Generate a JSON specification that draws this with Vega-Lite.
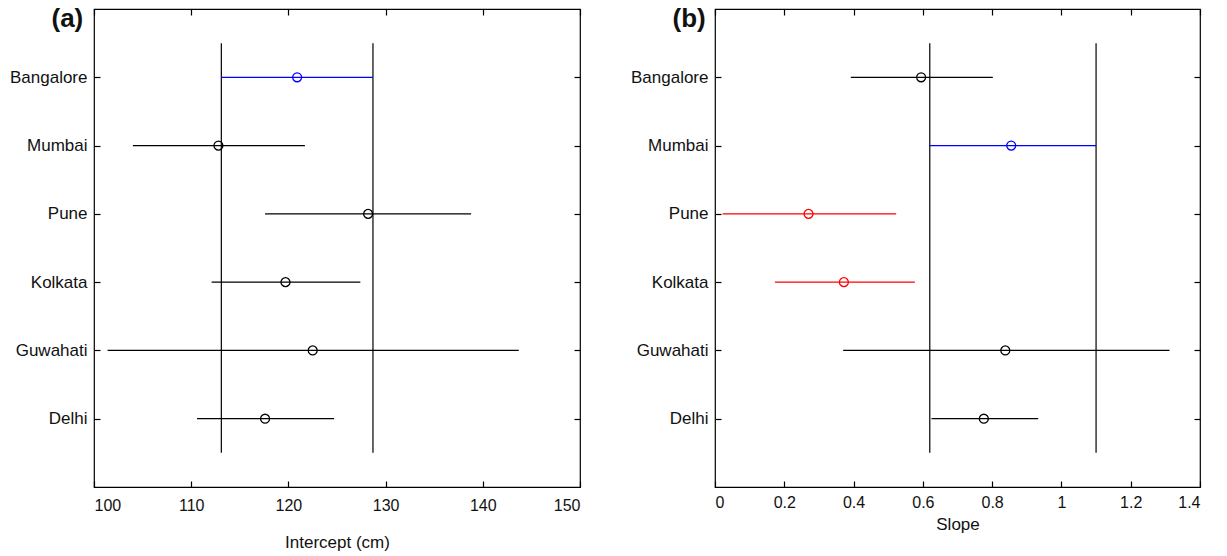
{
  "$schema": "https://vega.github.io/schema/vega-lite/v6.json",
  "padding": {"left": 8, "top": 5, "right": 5, "bottom": 0},
  "spacing": 47,
  "config": {
    "font": "Liberation Sans",
    "view": {"stroke": "black", "strokeWidth": 1.2},
    "axis": {
      "grid": false,
      "domain": false,
      "ticks": true,
      "tickColor": "black",
      "tickSize": -6,
      "tickWidth": 1.2,
      "labelColor": "#111111",
      "labelFontSize": 16,
      "titleFontSize": 17,
      "titleFontWeight": "normal",
      "titleColor": "#111111"
    },
    "title": {"color": "#111111"}
  },
  "datasets": {
    "intercept": [
      {"city": "Bangalore", "k": 6, "lo": 113.1, "est": 120.9, "hi": 128.7, "sig": "above"},
      {"city": "Mumbai", "k": 5, "lo": 104.0, "est": 112.8, "hi": 121.7, "sig": "within"},
      {"city": "Pune", "k": 4, "lo": 117.6, "est": 128.2, "hi": 138.8, "sig": "within"},
      {"city": "Kolkata", "k": 3, "lo": 112.1, "est": 119.7, "hi": 127.4, "sig": "within"},
      {"city": "Guwahati", "k": 2, "lo": 101.4, "est": 122.5, "hi": 143.7, "sig": "within"},
      {"city": "Delhi", "k": 1, "lo": 110.6, "est": 117.6, "hi": 124.7, "sig": "within"}
    ],
    "interceptRef": [{"ref": 113.1}, {"ref": 128.7}],
    "slope": [
      {"city": "Bangalore", "k": 6, "lo": 0.392, "est": 0.595, "hi": 0.802, "sig": "within"},
      {"city": "Mumbai", "k": 5, "lo": 0.62, "est": 0.855, "hi": 1.10, "sig": "above"},
      {"city": "Pune", "k": 4, "lo": 0.022, "est": 0.27, "hi": 0.523, "sig": "below"},
      {"city": "Kolkata", "k": 3, "lo": 0.173, "est": 0.372, "hi": 0.577, "sig": "below"},
      {"city": "Guwahati", "k": 2, "lo": 0.37, "est": 0.838, "hi": 1.312, "sig": "within"},
      {"city": "Delhi", "k": 1, "lo": 0.625, "est": 0.776, "hi": 0.933, "sig": "within"}
    ],
    "slopeRef": [{"ref": 0.62}, {"ref": 1.10}]
  },
  "hconcat": [
    {
      "width": 486,
      "height": 478,
      "title": {"text": "(a)", "anchor": "start", "fontSize": 26, "fontWeight": "bold", "dx": 42, "dy": 24, "offset": 0},
      "resolve": {"axis": {"x": "independent", "y": "independent"}},
      "layer": [
        {
          "data": {"name": "interceptRef"},
          "mark": {"type": "rule", "color": "black", "strokeWidth": 1.2},
          "encoding": {
            "x": {"field": "ref", "type": "quantitative", "scale": {"domain": [100, 150], "nice": false, "zero": false},
              "axis": {"orient": "bottom", "values": [100, 110, 120, 130, 140, 150], "title": "Intercept (cm)", "labelPadding": 16, "titlePadding": 21}},
            "y": {"datum": 0.5, "type": "quantitative", "scale": {"domain": [0, 7], "nice": false, "zero": false},
              "axis": {"orient": "left", "values": [1, 2, 3, 4, 5, 6], "title": null, "labelPadding": 13, "labelFontSize": 17,
                "labelExpr": "['', 'Delhi', 'Guwahati', 'Kolkata', 'Pune', 'Mumbai', 'Bangalore'][datum.value]"}},
            "y2": {"datum": 6.5}
          }
        },
        {
          "data": {"name": "intercept"},
          "mark": {"type": "rule", "strokeWidth": 1.2},
          "encoding": {
            "x": {"field": "lo", "type": "quantitative", "scale": {"domain": [100, 150], "nice": false, "zero": false},
              "axis": {"orient": "top", "values": [100, 110, 120, 130, 140, 150], "labels": false, "title": null}},
            "x2": {"field": "hi"},
            "y": {"field": "k", "type": "quantitative", "scale": {"domain": [0, 7], "nice": false, "zero": false},
              "axis": {"orient": "right", "values": [1, 2, 3, 4, 5, 6], "labels": false, "title": null}},
            "color": {"field": "sig", "type": "nominal", "scale": {"domain": ["within", "above", "below"], "range": ["#000000", "#0000ff", "#ff0000"]}, "legend": null}
          }
        },
        {
          "data": {"name": "intercept"},
          "mark": {"type": "point", "filled": false, "size": 80, "strokeWidth": 1.3, "opacity": 1},
          "encoding": {
            "x": {"field": "est", "type": "quantitative", "scale": {"domain": [100, 150], "nice": false, "zero": false}, "axis": null},
            "y": {"field": "k", "type": "quantitative", "scale": {"domain": [0, 7], "nice": false, "zero": false}, "axis": null},
            "color": {"field": "sig", "type": "nominal", "scale": {"domain": ["within", "above", "below"], "range": ["#000000", "#0000ff", "#ff0000"]}, "legend": null}
          }
        }
      ]
    },
    {
      "width": 485,
      "height": 478,
      "title": {"text": "(b)", "anchor": "start", "fontSize": 26, "fontWeight": "bold", "dx": 42, "dy": 24, "offset": 0},
      "resolve": {"axis": {"x": "independent", "y": "independent"}},
      "layer": [
        {
          "data": {"name": "slopeRef"},
          "mark": {"type": "rule", "color": "black", "strokeWidth": 1.2},
          "encoding": {
            "x": {"field": "ref", "type": "quantitative", "scale": {"domain": [0, 1.4], "nice": false, "zero": false},
              "axis": {"orient": "bottom", "values": [0, 0.2, 0.4, 0.6, 0.8, 1, 1.2, 1.4], "format": ".1~f", "title": "Slope", "labelPadding": 13, "titlePadding": 6}},
            "y": {"datum": 0.5, "type": "quantitative", "scale": {"domain": [0, 7], "nice": false, "zero": false},
              "axis": {"orient": "left", "values": [1, 2, 3, 4, 5, 6], "title": null, "labelPadding": 13, "labelFontSize": 17,
                "labelExpr": "['', 'Delhi', 'Guwahati', 'Kolkata', 'Pune', 'Mumbai', 'Bangalore'][datum.value]"}},
            "y2": {"datum": 6.5}
          }
        },
        {
          "data": {"name": "slope"},
          "mark": {"type": "rule", "strokeWidth": 1.2},
          "encoding": {
            "x": {"field": "lo", "type": "quantitative", "scale": {"domain": [0, 1.4], "nice": false, "zero": false},
              "axis": {"orient": "top", "values": [0, 0.2, 0.4, 0.6, 0.8, 1, 1.2, 1.4], "labels": false, "title": null}},
            "x2": {"field": "hi"},
            "y": {"field": "k", "type": "quantitative", "scale": {"domain": [0, 7], "nice": false, "zero": false},
              "axis": {"orient": "right", "values": [1, 2, 3, 4, 5, 6], "labels": false, "title": null}},
            "color": {"field": "sig", "type": "nominal", "scale": {"domain": ["within", "above", "below"], "range": ["#000000", "#0000ff", "#ff0000"]}, "legend": null}
          }
        },
        {
          "data": {"name": "slope"},
          "mark": {"type": "point", "filled": false, "size": 80, "strokeWidth": 1.3, "opacity": 1},
          "encoding": {
            "x": {"field": "est", "type": "quantitative", "scale": {"domain": [0, 1.4], "nice": false, "zero": false}, "axis": null},
            "y": {"field": "k", "type": "quantitative", "scale": {"domain": [0, 7], "nice": false, "zero": false}, "axis": null},
            "color": {"field": "sig", "type": "nominal", "scale": {"domain": ["within", "above", "below"], "range": ["#000000", "#0000ff", "#ff0000"]}, "legend": null}
          }
        }
      ]
    }
  ]
}
